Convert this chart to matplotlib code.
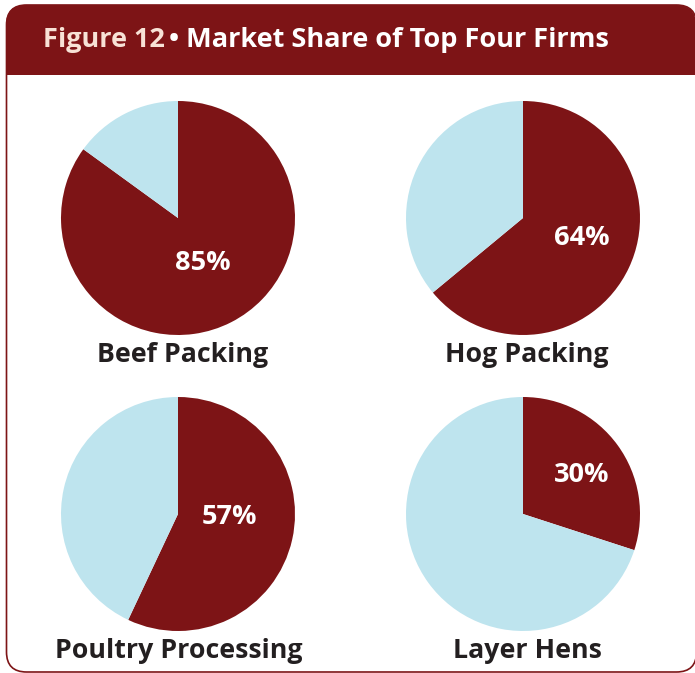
import matplotlib
matplotlib.use('Agg')
import matplotlib.pyplot as plt
from matplotlib.patches import FancyBboxPatch, Rectangle

# data
categories = ["Beef Packing", "Hog Packing", "Poultry Processing", "Layer Hens"]
top_four_share = [85, 64, 57, 30]

DARK_RED = "#7d1416"
LIGHT_BLUE = "#bee4ee"
TEXT_DARK = "#231f20"

plt.rcParams['font.family'] = ['Open Sans', 'DejaVu Sans']

W, H = 695, 673
fig = plt.figure(figsize=(W / 100, H / 100), dpi=100)

# background axes in pixel coordinates
bg = fig.add_axes([0, 0, 1, 1])
bg.set_xlim(0, W)
bg.set_ylim(H, 0)
bg.axis("off")

# outer frame
frame = FancyBboxPatch((6.5, 5), 690, 667, boxstyle="round,pad=0,rounding_size=20",
                       facecolor="white", edgecolor=DARK_RED, linewidth=1.2)
bg.add_patch(frame)
# header band
header = FancyBboxPatch((6, 5), 690, 70, boxstyle="round,pad=0,rounding_size=20",
                        facecolor=DARK_RED, edgecolor="none")
bg.add_patch(header)
bg.add_patch(Rectangle((6, 40), 690, 35, facecolor=DARK_RED, edgecolor="none"))

t1 = bg.text(43, 40, "Figure 12", color="#f8e2d6", fontsize=19.5, fontweight="bold",
             va="center", ha="left")
fig.canvas.draw()
bb = t1.get_window_extent()
x_end = bb.x1
bg.text(x_end + 4, 40, "\u2022 Market Share of Top Four Firms", color="white",
        fontsize=19.5, fontweight="bold", va="center", ha="left")

# pie layout (pixel centres)
centres = [(178, 218), (523, 218), (178, 514), (523, 514)]
radius_px = 117
label_offsets = [(24.5, 42), (58.5, 17), (51, 0.5), (59, -41.5)]
name_pos = [(183, 355), (527, 355), (179, 651), (527, 651)]

for i, cat in enumerate(categories):
    cx, cy = centres[i]
    ax = fig.add_axes([(cx - radius_px) / W, 1 - (cy + radius_px) / H,
                       2 * radius_px / W, 2 * radius_px / H])
    share = top_four_share[i]
    ax.pie([share, 100 - share], colors=[DARK_RED, LIGHT_BLUE], startangle=90,
           counterclock=False, radius=1, wedgeprops=dict(linewidth=0))
    ax.set_xlim(-1, 1)
    ax.set_ylim(-1, 1)
    ax.set_aspect("equal")
    ax.axis("off")
    dx, dy = label_offsets[i]
    ax.text(dx / radius_px, -dy / radius_px, f"{share}%", color="white", fontsize=19.5,
            fontweight="bold", ha="center", va="center_baseline")
    nx, ny = name_pos[i]
    bg.text(nx, ny, cat, color=TEXT_DARK, fontsize=19.3,
            fontweight="bold", ha="center", va="center")

fig.savefig("out.png", dpi=100)
